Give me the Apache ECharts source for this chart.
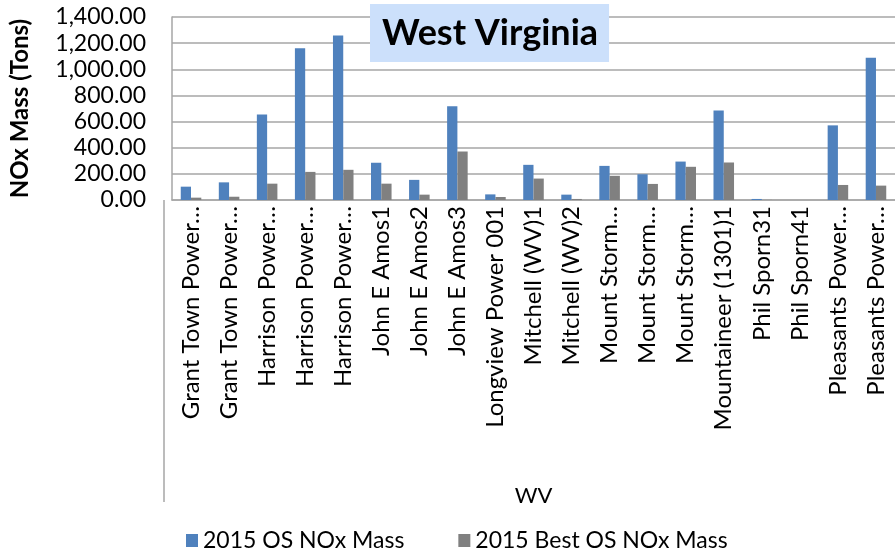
<!DOCTYPE html>
<html>
<head>
<meta charset="utf-8">
<script src="https://cdn.jsdelivr.net/npm/echarts@6/dist/echarts.min.js"></script>
<style>
  html, body { margin: 0; padding: 0; background: #ffffff; }
  #myChart { width: 895px; height: 550px; }
</style>
</head>
<body>
<div id="myChart"></div>
<script>
// plant units (labels are cut off in the original, kept as shown)
const plantNames = [
  'Grant Town Power…', 'Grant Town Power…', 'Harrison Power…', 'Harrison Power…',
  'Harrison Power…', 'John E Amos1', 'John E Amos2', 'John E Amos3',
  'Longview Power 001', 'Mitchell (WV)1', 'Mitchell (WV)2', 'Mount Storm…',
  'Mount Storm…', 'Mount Storm…', 'Mountaineer (1301)1', 'Phil Sporn31',
  'Phil Sporn41', 'Pleasants Power…', 'Pleasants Power…'
];
const osNox = [102, 135, 654, 1161, 1258, 285, 154, 717, 43, 269, 41, 261, 197, 294, 684, 8, 0, 571, 1089];
const bestOsNox = [18, 25, 125, 215, 231, 125, 41, 371, 23, 164, 8, 185, 123, 254, 287, 1, 0, 115, 110];
const seriesNames = ['2015 OS NOx Mass', '2015 Best OS NOx Mass'];
const yTicks = { min: 0, max: 1400, step: 200 };

let myChart = echarts.init(document.getElementById('myChart'));
let font = 'Lato, "Liberation Sans", sans-serif';

let option = {
  backgroundColor: '#ffffff',
  animation: false,
  textStyle: { fontFamily: font },
  title: {
    text: 'West Virginia',
    left: 370,
    top: 4,
    padding: [11, 11, 11, 12],
    backgroundColor: '#cce0fb',
    textStyle: { fontSize: 36, fontWeight: 'bold', color: '#000', fontFamily: font }
  },
  legend: {
    data: seriesNames,
    left: 181,
    top: 524,
    icon: 'rect',
    itemWidth: 12,
    itemHeight: 13,
    itemGap: 54,
    textStyle: { fontSize: 23, color: '#000', fontFamily: font }
  },
  grid: {
    left: 164,
    top: 17,
    width: 743,
    height: 183,
    containLabel: false
  },
  xAxis: {
    type: 'category',
    data: plantNames,
    name: 'WV',
    nameLocation: 'middle',
    nameGap: 285,
    nameTextStyle: { fontSize: 22, color: '#000', fontFamily: font },
    axisLine: { show: true, lineStyle: { color: '#a6a6a6', width: 1.5 } },
    axisTick: { show: false },
    axisLabel: {
      interval: 0,
      rotate: 90,
      margin: 6,
      fontSize: 24,
      color: '#000',
      fontFamily: font
    }
  },
  yAxis: {
    type: 'value',
    min: yTicks.min,
    max: yTicks.max,
    interval: yTicks.step,
    name: 'NOx Mass (Tons)',
    nameLocation: 'middle',
    nameGap: 140,
    nameTextStyle: { fontSize: 24, fontWeight: 'bold', color: '#000', fontFamily: font },
    axisLine: { show: true, lineStyle: { color: '#a6a6a6', width: 1.5 } },
    axisTick: { show: false },
    splitLine: { show: true, lineStyle: { color: '#a6a6a6', width: 1.5 } },
    axisLabel: {
      margin: 26,
      fontSize: 23,
      color: '#000',
      fontFamily: font,
      formatter: function (v) {
        return v.toLocaleString('en-US', { minimumFractionDigits: 2, maximumFractionDigits: 2 });
      }
    }
  },
  // the category axis box keeps going down past the labels
  graphic: [
    {
      type: 'line',
      shape: { x1: 164, y1: 200, x2: 164, y2: 502 },
      style: { stroke: '#a6a6a6', lineWidth: 1.5 }
    }
  ],
  series: [
    {
      name: seriesNames[0],
      type: 'bar',
      barGap: '0%',
      barCategoryGap: '46%',
      itemStyle: { color: '#4f81bd' },
      data: osNox
    },
    {
      name: seriesNames[1],
      type: 'bar',
      itemStyle: { color: '#808080' },
      data: bestOsNox
    }
  ]
};
myChart.setOption(option);
</script>
</body>
</html>
